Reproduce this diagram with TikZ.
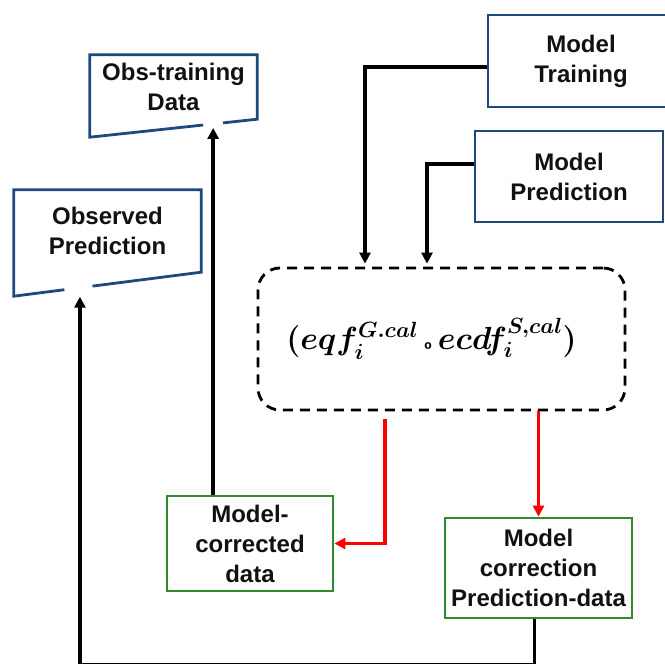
\RequirePackage{fix-cm}
\documentclass[tikz,border=0pt]{standalone}
\usepackage{fontspec}
\setmainfont{Liberation Sans}
\usepackage{amsmath}
\usetikzlibrary{arrows.meta, positioning, calc}
\DeclareMathSizes{32}{32}{22}{15}
\definecolor{navyline}{HTML}{1F497D}
\definecolor{greenline}{HTML}{2E8B2E}
\definecolor{redline}{HTML}{FF0000}
\definecolor{darktext}{HTML}{111111}

\begin{document}
\begin{tikzpicture}[
    x=1pt, y=-1pt,
    box/.style={rectangle, draw=#1, line width=2.8pt, inner sep=0pt,
                align=center, font=\fontsize{24}{30}\selectfont\bfseries,
                text=darktext},
    slantbox/.style={rectangle, inner sep=0pt, align=center,
                font=\fontsize{24}{30}\selectfont\bfseries, text=darktext},
    corebox/.style={rectangle, draw=black, line width=2.8pt,
                dash pattern=on 10pt off 7pt, rounded corners=22pt,
                font=\fontsize{32}{38}\selectfont\boldmath},
    outline/.style={draw=navyline, line width=2.8pt},
    arrow/.style={-{Triangle[length=11pt, width=11pt]}, line width=3.5pt, color=black},
    redarrow/.style={-{Triangle[length=11pt, width=11pt]}, line width=3.5pt, color=redline}
]
\clip (0,0) rectangle (665,664);

\node[box=navyline, minimum width=186pt, minimum height=92pt] (train) at (581,61) {Model\\Training};
\node[box=navyline, minimum width=188pt, minimum height=91pt] (pred) at (569,176.5) {Model\\Prediction};
\node[slantbox, minimum width=167pt, minimum height=64pt] (obs) at (173.5,87) {Obs-training\\Data};
\node[slantbox, minimum width=187pt, minimum height=82pt] (obspred) at (107.5,231) {Observed\\Prediction};
\node[corebox, minimum width=367pt, minimum height=142pt] (core) at (441.5,339)
    {$(eqf_{i}^{G.cal}\,{\raisebox{-7pt}{\fontsize{20}{20}\selectfont\bfseries º}}\,ecdf_{i}^{S,cal})$\hspace*{20pt}};
\node[box=greenline, minimum width=166pt, minimum height=95pt] (mcd) at (250,543.5) {Model-\\corrected\\data};
\node[box=greenline, minimum width=187pt, minimum height=100pt] (mcp) at (538.5,568) {Model\\correction\\Prediction-data};

\coordinate (obsA) at ([yshift=-18pt]obs.south west);
\coordinate (predA) at ([yshift=-24pt]obspred.south west);
\coordinate (obsin) at ($(obsA)!0.737!(obs.south east) + (0,4)$);
\coordinate (oprin) at ($(predA)!0.353!(obspred.south east) + (0,9)$);

\draw[outline] ($(obsA)!0.677!(obs.south east)$) -- (obsA) -- (obs.north west)
    -- (obs.north east) -- (obs.south east) -- ($(obsA)!0.796!(obs.south east)$);
\draw[outline] ($(predA)!0.27!(obspred.south east)$) -- (predA) -- (obspred.north west)
    -- (obspred.north east) -- (obspred.south east) -- ($(predA)!0.42!(obspred.south east)$);

\draw[arrow, shorten >=3pt] ([yshift=-6pt]train.west) -| ([xshift=-76.5pt]core.north);
\draw[arrow, shorten >=3pt] ([yshift=12.5pt]pred.west) -| ([xshift=-14.5pt]core.north);
\draw[redarrow, shorten <=8pt] ([xshift=-56.5pt]core.south) |- (mcd.east);
\draw[redarrow] (core.south -| mcp.north) -- (mcp.north);
\draw[arrow] (obsin |- mcd.north) -- (obsin);
\draw[arrow] ([xshift=-4pt]mcp.south) -- ++(0,45) -| (oprin);

\end{tikzpicture}
\end{document}
